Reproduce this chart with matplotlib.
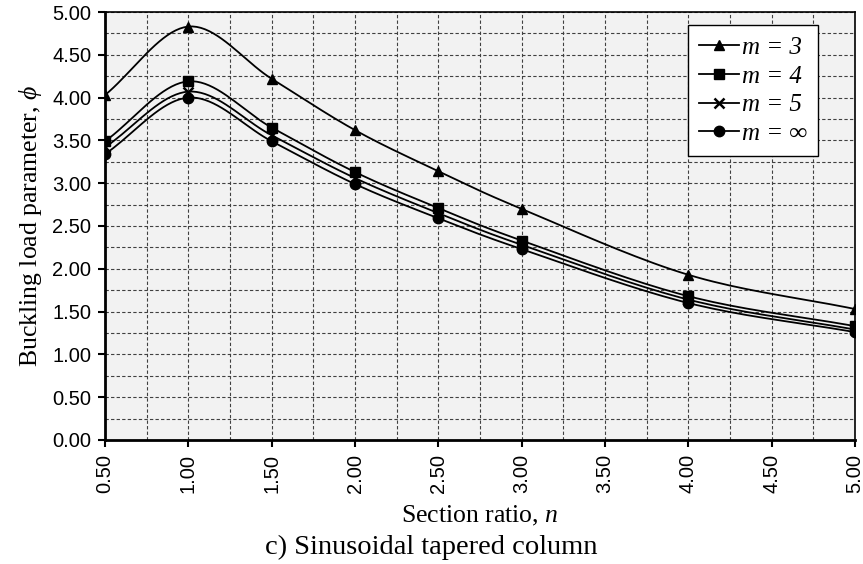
import numpy as np
import matplotlib.pyplot as plt
from matplotlib.ticker import MultipleLocator, FormatStrFormatter

# Section ratio and buckling load parameter for each m
n = [0.5, 1.0, 1.5, 2.0, 2.5, 3.0, 4.0, 5.0]
phi_m3 = [4.03, 4.83, 4.22, 3.62, 3.14, 2.70, 1.93, 1.53]
phi_m4 = [3.49, 4.19, 3.65, 3.13, 2.71, 2.33, 1.68, 1.33]
phi_m5 = [3.42, 4.07, 3.56, 3.06, 2.65, 2.28, 1.64, 1.29]
phi_inf = [3.34, 4.00, 3.49, 2.99, 2.59, 2.23, 1.60, 1.26]

labels = ['m = 3', 'm = 4', 'm = 5', 'm = ∞']
markers = ['^', 's', 'x', 'o']


# smoothed line like a spreadsheet chart (Catmull-Rom through the points)
def smooth(x, y, k=20):
    x = np.asarray(x, float)
    y = np.asarray(y, float)
    px = np.concatenate([[2 * x[0] - x[1]], x, [2 * x[-1] - x[-2]]])
    py = np.concatenate([[2 * y[0] - y[1]], y, [2 * y[-1] - y[-2]]])
    xs, ys = [], []
    t = np.linspace(0, 1, k, endpoint=False)
    for i in range(1, len(px) - 2):
        for p, out in ((px, xs), (py, ys)):
            p0, p1, p2, p3 = p[i - 1], p[i], p[i + 1], p[i + 2]
            out.extend(0.5 * ((2 * p1) + (-p0 + p2) * t
                              + (2 * p0 - 5 * p1 + 4 * p2 - p3) * t ** 2
                              + (-p0 + 3 * p1 - 3 * p2 + p3) * t ** 3))
    xs.append(x[-1])
    ys.append(y[-1])
    return xs, ys


plt.rcParams['font.family'] = ['Liberation Sans', 'DejaVu Sans']
plt.rcParams['mathtext.fontset'] = 'custom'
plt.rcParams['mathtext.it'] = 'Liberation Serif:italic'
plt.rcParams['mathtext.rm'] = 'Liberation Serif'

fig = plt.figure(figsize=(8.63, 5.64), dpi=100)
ax = fig.add_axes([0.1217, 0.2199, 0.8690, 0.7588])
ax.set_facecolor('#f2f2f2')

for y, lab, mk in zip([phi_m3, phi_m4, phi_m5, phi_inf], labels, markers):
    sx, sy = smooth(n, y)
    ax.plot(sx, sy, color='black', lw=1.3)
    ax.plot(n, y, linestyle='none', marker=mk, color='black', ms=7.5,
            mew=1.8 if mk == 'x' else 1)
    ax.plot([], [], color='black', lw=1.3, marker=mk, ms=7.5,
            mew=1.8 if mk == 'x' else 1, label=lab)

ax.set_xlim(0.5, 5.0)
ax.set_ylim(0.0, 5.0)
ax.xaxis.set_major_locator(MultipleLocator(0.5))
ax.xaxis.set_minor_locator(MultipleLocator(0.25))
ax.yaxis.set_major_locator(MultipleLocator(0.5))
ax.yaxis.set_minor_locator(MultipleLocator(0.25))
ax.xaxis.set_major_formatter(FormatStrFormatter('%.2f'))
ax.yaxis.set_major_formatter(FormatStrFormatter('%.2f'))
plt.setp(ax.get_xticklabels(), rotation=90)
ax.grid(which='both', color='#404040', linestyle=(0, (3, 2)), linewidth=0.8)
ax.set_axisbelow(True)
ax.tick_params(which='major', direction='out', length=5, width=1.5, labelsize=14.5, pad=5)
ax.tick_params(which='minor', length=0)
for s in ['left', 'bottom']:
    ax.spines[s].set_linewidth(2)
for s in ['top', 'right']:
    ax.spines[s].set_linewidth(1.2)

ax.set_xlabel(r'Section ratio, $\mathit{n}$', fontsize=18.5, family='Liberation Serif', labelpad=8)
ax.set_ylabel(r'Buckling load parameter, $\mathit{\phi}$', fontsize=18.5,
              family='Liberation Serif', labelpad=6)
fig.text(0.5, 0.03, 'c) Sinusoidal tapered column', ha='center', va='center',
         fontsize=20.5, family='Liberation Serif')

leg = ax.legend(loc='upper right', bbox_to_anchor=(0.951, 0.9696), borderaxespad=0,
                prop={'family': 'Liberation Serif', 'style': 'italic', 'size': 18},
                frameon=True, fancybox=False, edgecolor='black', framealpha=1,
                handlelength=1.6, handletextpad=0.1, labelspacing=0.25, borderpad=0.45)
leg.get_frame().set_linewidth(1.0)

plt.savefig('out.png', dpi=100)
